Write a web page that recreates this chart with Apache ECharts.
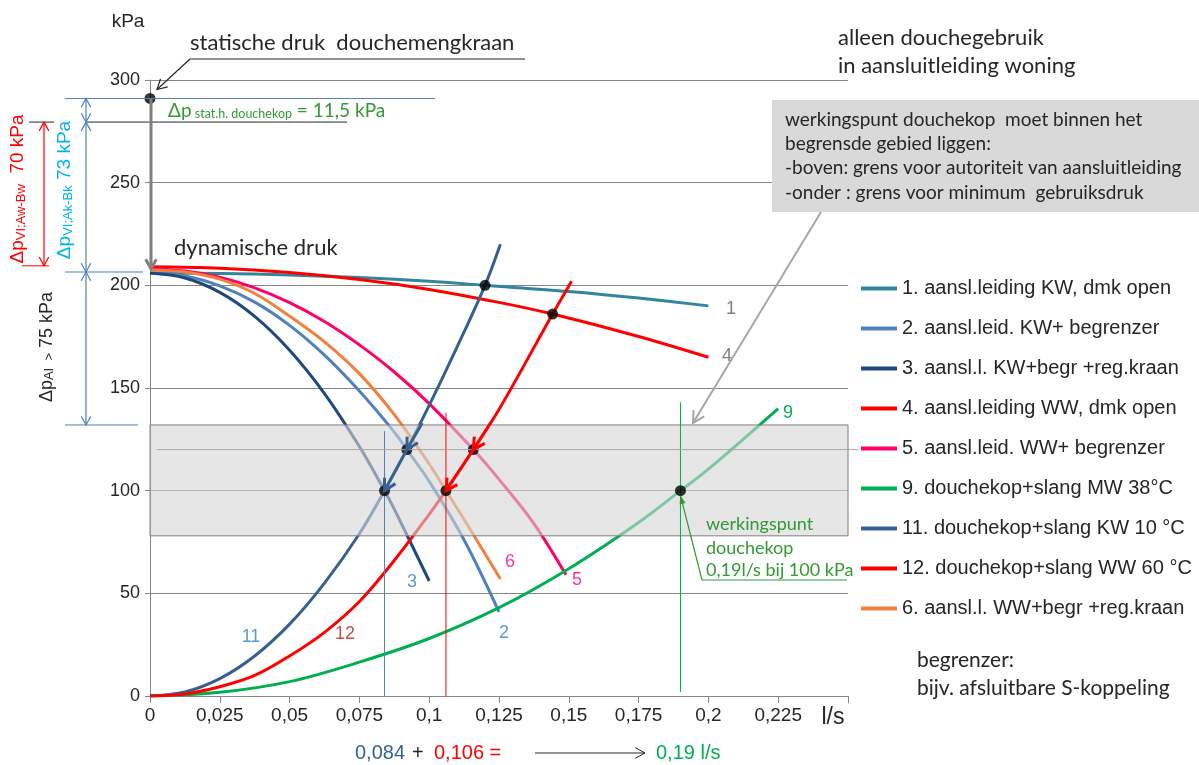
<!DOCTYPE html>
<html>
<head>
<meta charset="utf-8">
<script src="https://cdn.jsdelivr.net/npm/echarts@6/dist/echarts.min.js"></script>
<style>
  html, body { margin: 0; padding: 0; background: #ffffff; }
  #chart { width: 1199px; height: 765px; }
</style>
</head>
<body>
<div id="chart"></div>
<script>
// ---- pressure/flow curves: flow in l/s, pressure in kPa ----
const curve1Flow  = [0, 0.025, 0.05, 0.075, 0.1, 0.12, 0.15, 0.175, 0.2];
const curve1Press = [206, 205.8, 205, 203.8, 202, 200, 197, 193.8, 190];

const curve2Flow  = [0, 0.0125, 0.025, 0.0375, 0.05, 0.0625, 0.075, 0.0875, 0.092, 0.1, 0.1125, 0.125];
const curve2Press = [206, 204.5, 199.7, 191.8, 180.5, 166, 148.5, 128.5, 120, 104.5, 76, 41];

const curve3Flow  = [0, 0.0125, 0.025, 0.0375, 0.05, 0.0625, 0.075, 0.084, 0.0875, 0.1];
const curve3Press = [206, 203.6, 196.6, 184.9, 168.4, 147.3, 121.5, 100, 91, 56];

const curve4Flow  = [0, 0.025, 0.05, 0.075, 0.1, 0.125, 0.1442, 0.175, 0.2];
const curve4Press = [209, 208.3, 206.2, 202.8, 198, 191.7, 186, 175.1, 165];

const curve5Flow  = [0, 0.0125, 0.025, 0.0375, 0.05, 0.0625, 0.075, 0.0875, 0.1, 0.1158, 0.125, 0.1375, 0.149];
const curve5Press = [208, 207, 204, 198.8, 191.6, 182.4, 171, 157.8, 142.4, 120, 105.5, 84, 59];

const curve6Flow  = [0, 0.0125, 0.025, 0.0375, 0.05, 0.0625, 0.075, 0.0875, 0.1, 0.106, 0.1125, 0.1255];
const curve6Press = [207.5, 206.5, 203, 196, 185, 172.5, 157, 137, 113, 100, 86, 57];

const curve9Flow  = [0, 0.025, 0.05, 0.075, 0.1, 0.125, 0.15, 0.175, 0.19, 0.2, 0.225];
const curve9Press = [0, 1.8, 7, 16.5, 28, 43, 62, 84.5, 100, 110.5, 140];

const curve11Flow  = [0, 0.0125, 0.025, 0.0375, 0.05, 0.0625, 0.075, 0.084, 0.092, 0.1, 0.11, 0.12, 0.1255];
const curve11Press = [0, 2, 8.5, 19.5, 35, 55, 79, 100, 120, 141.5, 170, 200, 220];

const curve12Flow  = [0, 0.0125, 0.025, 0.0375, 0.05, 0.0625, 0.075, 0.0875, 0.1, 0.106, 0.1158, 0.125, 0.1442, 0.151];
const curve12Press = [0, 1, 4.5, 10, 19.5, 31, 46, 66, 88.5, 100, 120, 139.5, 186, 202];

// operating points (intersections) and the static pressure point
const pointFlow  = [0, 0.12, 0.1442, 0.092, 0.1158, 0.084, 0.106, 0.19];
const pointPress = [291, 200, 186, 120, 120, 100, 100, 100];

// guide lines at the resulting flows
const guideFlow   = [0.084, 0.106, 0.19];
const guideBottom = [0, 0, 2];
const guideTop    = [129, 138, 143];

// pressure levels used by the annotations (kPa)
const staticPressure = 291;
const staticHeadLoss = 11.5;
const dropColdSupply = 73;
const dropWarmSupply = 70;
const bandTop = 132;
const bandBottom = 78;
const limitLevel = 120;

// axis tick labels
const xTickLabels = ['0', '0,025', '0,05', '0,075', '0,1', '0,125', '0,15', '0,175', '0,2', '0,225', 'l/s'];
const yTickLabels = ['0', '50', '100', '150', '200', '250', '300'];

const seriesNames = [
  '1. aansl.leiding KW, dmk open',
  '2. aansl.leid. KW+ begrenzer',
  '3. aansl.l. KW+begr +reg.kraan',
  '4. aansl.leiding WW, dmk open',
  '5. aansl.leid. WW+ begrenzer',
  '9. douchekop+slang MW 38°C',
  '11. douchekop+slang KW 10 °C',
  '12. douchekop+slang WW 60 °C',
  '6. aansl.l. WW+begr +reg.kraan'
];

const pairs = (xs, ys) => xs.map((x, i) => [x, ys[i]]);

const curves = [
  { name: seriesNames[0], flow: curve1Flow,  press: curve1Press,  color: '#31859C' },
  { name: seriesNames[1], flow: curve2Flow,  press: curve2Press,  color: '#4F81BD' },
  { name: seriesNames[2], flow: curve3Flow,  press: curve3Press,  color: '#1F497D' },
  { name: seriesNames[3], flow: curve4Flow,  press: curve4Press,  color: '#FF0000' },
  { name: seriesNames[4], flow: curve5Flow,  press: curve5Press,  color: '#FF0066' },
  { name: seriesNames[5], flow: curve9Flow,  press: curve9Press,  color: '#00B050' },
  { name: seriesNames[6], flow: curve11Flow, press: curve11Press, color: '#376092' },
  { name: seriesNames[7], flow: curve12Flow, press: curve12Press, color: '#FF0000' },
  { name: seriesNames[8], flow: curve6Flow,  press: curve6Press,  color: '#F2803D' }
];

const AXIS_GRAY = '#868686';
const TEXT = '#262626';
const ARIAL = "'Liberation Sans', Arial, sans-serif";
const CALIBRI = "Lato, 'Open Sans', sans-serif";

const chart = echarts.init(document.getElementById('chart'), null, { renderer: 'canvas' });

const series = curves.map(c => ({
  type: 'line',
  name: c.name,
  data: pairs(c.flow, c.press),
  smooth: 0.35,
  symbol: 'none',
  silent: true,
  z: 2,
  lineStyle: { color: c.color, width: 3 },
  itemStyle: { color: c.color }
}));

// shaded usage band, drawn over the curves so they show through faded
series.push({
  type: 'line',
  name: 'band',
  data: [[0, bandBottom]],
  symbol: 'none',
  lineStyle: { opacity: 0 },
  silent: true,
  markArea: {
    z: 3,
    silent: true,
    itemStyle: { color: 'rgba(214,214,214,0.6)', borderColor: '#7F7F7F', borderWidth: 1 },
    data: [[{ coord: [0, bandBottom] }, { coord: [0.25, bandTop] }]]
  }
});

// vertical guide lines
const guideColors = ['#4F81BD', '#FF0000', '#00B050'];
guideFlow.forEach((f, i) => {
  series.push({
    type: 'line',
    name: 'guide' + i,
    data: [[f, guideBottom[i]], [f, guideTop[i]]],
    symbol: 'none',
    silent: true,
    z: 4,
    lineStyle: { color: guideColors[i], width: 1 }
  });
});

// black dots
series.push({
  type: 'scatter',
  name: 'points',
  data: pairs(pointFlow, pointPress),
  symbolSize: 11,
  silent: true,
  z: 6,
  itemStyle: { color: '#000000' }
});

chart.setOption({
  animation: false,
  backgroundColor: '#ffffff',
  grid: { left: 150, top: 80, width: 698, height: 616, outerBoundsMode: 'none', containLabel: false },
  legend: {
    data: seriesNames,
    orient: 'vertical',
    left: 856,
    top: 272,
    icon: 'rect',
    itemWidth: 36,
    itemHeight: 4,
    itemGap: 17,
    selectedMode: false,
    textStyle: { fontFamily: ARIAL, fontSize: 20, color: TEXT, lineHeight: 23 }
  },
  xAxis: {
    type: 'value',
    min: 0,
    max: 0.25,
    interval: 0.025,
    axisLine: { show: true, lineStyle: { color: AXIS_GRAY, width: 1 } },
    axisTick: { show: true, length: 7, lineStyle: { color: AXIS_GRAY } },
    splitLine: { show: false },
    axisLabel: {
      margin: 10,
      fontFamily: ARIAL,
      fontSize: 19,
      color: TEXT,
      formatter: v => {
        const s = xTickLabels[Math.round(v / 0.025)];
        return s === 'l/s' ? '{u|l/s}' : s;
      },
      rich: { u: { fontFamily: ARIAL, fontSize: 23, color: TEXT, padding: [0, 30, 0, 0] } }
    }
  },
  yAxis: {
    type: 'value',
    min: 0,
    max: 300,
    interval: 50,
    axisLine: { show: true, lineStyle: { color: AXIS_GRAY, width: 1 } },
    axisTick: { show: true, length: 5, lineStyle: { color: AXIS_GRAY } },
    splitLine: { show: true, lineStyle: { color: AXIS_GRAY, width: 1 } },
    axisLabel: {
      margin: 10,
      fontFamily: ARIAL,
      fontSize: 18,
      color: TEXT,
      formatter: v => yTickLabels[Math.round(v / 50)]
    }
  },
  series: series
});

// ---- annotations positioned from the axis scales ----
const px = (x, y) => chart.convertToPixel({ gridIndex: 0 }, [x, y]);
const Y = v => px(0, v)[1];
const g = [];
const Z = 100;

function line(x1, y1, x2, y2, color, w) {
  g.push({ type: 'line', silent: true, z: Z, shape: { x1, y1, x2, y2 }, style: { stroke: color, lineWidth: w } });
}
function head(x1, y1, x2, y2, color, w, size, filled) {
  const a = Math.atan2(y2 - y1, x2 - x1), sp = filled ? 0.35 : 0.5;
  const p1 = [x2 - size * Math.cos(a - sp), y2 - size * Math.sin(a - sp)];
  const p2 = [x2 - size * Math.cos(a + sp), y2 - size * Math.sin(a + sp)];
  if (filled) {
    g.push({ type: 'polygon', silent: true, z: Z, shape: { points: [p1, [x2, y2], p2] }, style: { fill: color } });
  } else {
    g.push({ type: 'polyline', silent: true, z: Z, shape: { points: [p1, [x2, y2], p2] }, style: { stroke: color, lineWidth: w, fill: null } });
  }
}
function arrow(x1, y1, x2, y2, color, w, size, both, filled) {
  line(x1, y1, x2, y2, color, w);
  head(x1, y1, x2, y2, color, w, size, filled);
  if (both) head(x2, y2, x1, y1, color, w, size, filled);
}
function text(x, y, str, o) {
  o = o || {};
  g.push({
    type: 'text', silent: true, z: Z, x, y, rotation: o.rotation || 0,
    style: {
      text: str, fill: o.color || TEXT,
      fontFamily: o.family || CALIBRI, fontSize: o.size || 20,
      align: o.align || 'left', verticalAlign: o.valign || 'middle',
      rich: o.rich
    }
  });
}

const BLUE = '#4F81BD';
const staticHead = staticPressure - staticHeadLoss;
const dynCold = staticHead - dropColdSupply;
const dynWarm = staticHead - dropWarmSupply;
const origin = px(0, staticPressure);

// level lines on the left
line(65, Y(staticPressure), 435, Y(staticPressure), BLUE, 1);
line(85, Y(staticHead), 347, Y(staticHead), TEXT, 1);
line(29, Y(staticHead), 54, Y(staticHead), TEXT, 1);
line(65, Y(dynCold), 143, Y(dynCold), BLUE, 1);
line(65, Y(bandTop), 138, Y(bandTop), BLUE, 1);
line(22, Y(dynWarm), 49, Y(dynWarm), '#FF0000', 1);

// dimension arrows
arrow(44, Y(staticHead), 44, Y(dynWarm), '#FF0000', 1.2, 10, true, false);
arrow(86, Y(staticPressure), 86, Y(staticHead), BLUE, 1.2, 10, true, false);
arrow(86, Y(staticHead), 86, Y(dynCold), BLUE, 1.2, 10, true, false);
arrow(86, Y(dynCold), 86, Y(bandTop), BLUE, 1.2, 10, true, false);

// static to dynamic pressure drop
arrow(origin[0] + 1, origin[1], origin[0] + 1, Y(208), '#808080', 3, 11, false, false);

// rotated dimension labels
const sub = (c, big) => ({ a: { fontFamily: ARIAL, fontSize: big, fill: c, color: c }, s: { fontFamily: ARIAL, fontSize: 13, fill: c, color: c, verticalAlign: 'bottom' } });
text(18, 189, '{a|Δp}{s|VI;Aw-Bw}{a|  70 kPa}', { rotation: Math.PI / 2, align: 'center', color: '#FF0000', rich: sub('#FF0000', 19) });
text(65, 190, '{a|Δp}{s|VI;Ak-Bk}{a| 73 kPa}', { rotation: Math.PI / 2, align: 'center', color: '#00B0F0', rich: sub('#00B0F0', 19) });
text(47, 347, '{a|Δp}{s|AI  >}{a| 75 kPa}', { rotation: Math.PI / 2, align: 'center', color: TEXT, rich: sub(TEXT, 18) });

// axis unit
text(128, 22, 'kPa', { family: ARIAL, size: 19, align: 'center' });

// static pressure callout
line(190, 59, 525, 59, TEXT, 1.2);
arrow(190, 59, origin[0] + 7, origin[1] - 9, TEXT, 1.2, 11, false, false);
text(190, 43, 'statische druk  douchemengkraan', { size: 22 });
text(168, 111, '{a|Δp}{s| stat.h. douchekop}{a| = 11,5 kPa}', {
  color: '#339933',
  rich: {
    a: { fontFamily: CALIBRI, fontSize: 19, color: '#339933' },
    s: { fontFamily: CALIBRI, fontSize: 12.5, color: '#339933', verticalAlign: 'bottom' }
  }
});
text(174, 248, 'dynamische druk', { size: 22 });

// title on the right
text(838, 38, 'alleen douchegebruik', { size: 22 });
text(838, 66, 'in aansluitleiding woning', { size: 22 });

// grey note box with pointer to the band
g.push({ type: 'rect', silent: true, z: Z - 1, shape: { x: 772, y: 100, width: 427, height: 112 }, style: { fill: '#D9D9D9' } });
text(785, 120, 'werkingspunt douchekop  moet binnen het', { size: 19 });
text(785, 144, 'begrensde gebied liggen:', { size: 19 });
text(785, 168, '-boven: grens voor autoriteit van aansluitleiding', { size: 19 });
text(785, 193, '-onder : grens voor minimum  gebruiksdruk', { size: 19 });
arrow(821, 212, 693, Y(bandTop) - 2, '#A6A6A6', 2, 13, false, false);

// limit line inside the band
line(px(0, 0)[0] + 7, Y(limitLevel), px(0.25, 0)[0] + 10, Y(limitLevel), '#A6A6A6', 1);

// arrows along the shower curves towards the operating points
const C11 = '#376092', C12 = '#FF0000';
const a11a = px(0.0975, 133), a11b = px(0.092, 120), a11c = px(0.084, 100);
arrow(a11a[0], a11a[1], a11b[0], a11b[1], C11, 3, 13, false, false);
arrow(a11b[0], a11b[1], a11c[0], a11c[1], C11, 3, 13, false, false);
const a12a = px(0.122, 133), a12b = px(0.1158, 120), a12c = px(0.106, 100);
arrow(a12a[0], a12a[1], a12b[0], a12b[1], C12, 3, 13, false, false);
arrow(a12b[0], a12b[1], a12c[0], a12c[1], C12, 3, 13, false, false);

// operating point note
const op = px(0.19, 100);
line(702, 580, 847, 580, '#339933', 1.2);
arrow(702, 580, op[0], op[1] + 5, '#339933', 1.2, 9, false, true);
text(706, 524, 'werkingspunt', { size: 18, color: '#339933' });
text(706, 548, 'douchekop', { size: 18, color: '#339933' });
text(706, 570, '0,19l/s bij 100 kPa', { size: 18, color: '#339933' });

// curve numbers
text(726, 309, '1', { family: ARIAL, size: 18, color: '#808080' });
text(722, 356, '4', { family: ARIAL, size: 18, color: '#808080' });
text(783, 413, '9', { family: ARIAL, size: 18, color: '#00B050' });
text(412, 582, '3', { family: ARIAL, size: 18, color: '#5B9BD5', align: 'center' });
text(504, 633, '2', { family: ARIAL, size: 18, color: '#5B9BD5', align: 'center' });
text(510, 562, '6', { family: ARIAL, size: 18, color: '#FF3399', align: 'center' });
text(577, 580, '5', { family: ARIAL, size: 18, color: '#FF3399', align: 'center' });
text(251, 637, '11', { family: ARIAL, size: 18, color: '#5B9BD5', align: 'center' });
text(345, 634, '12', { family: ARIAL, size: 18, color: '#C0504D', align: 'center' });

// footnote
text(917, 660, 'begrenzer:', { size: 21 });
text(917, 688, 'bijv. afsluitbare S-koppeling', { size: 21 });

// sum of flows under the axis
text(355, 753, '0,084', { family: ARIAL, size: 20, color: '#376092' });
text(412, 753, '+', { family: ARIAL, size: 20, color: TEXT });
text(434, 753, '0,106 =', { family: ARIAL, size: 20, color: '#FF0000' });
arrow(535, 753, 645, 753, TEXT, 1, 11, false, false);
text(656, 753, '0,19 l/s', { family: ARIAL, size: 20, color: '#00B050' });

chart.setOption({ graphic: { elements: g } });
</script>
</body>
</html>
